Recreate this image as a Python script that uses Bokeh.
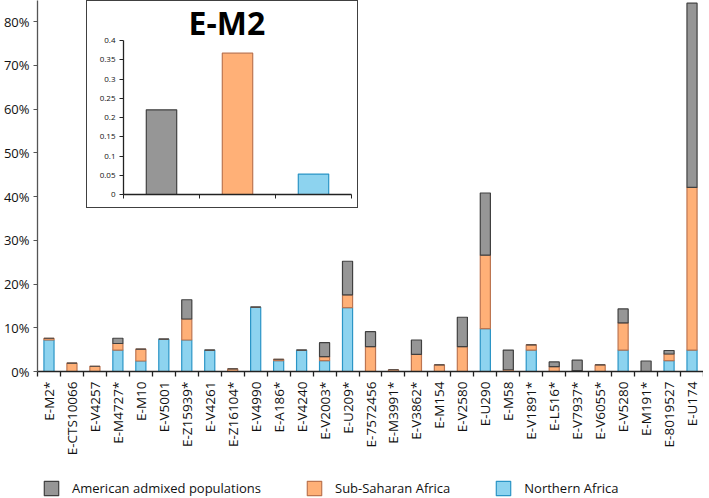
import math
from bokeh.plotting import figure
from bokeh.models import (ColumnDataSource, Range1d, FixedTicker, NumeralTickFormatter,
                          Legend, LegendItem, Title)
from bokeh.embed import file_html
from bokeh.resources import INLINE

# ---------------- data ----------------
haplogroups = ["E-M2*", "E-CTS10066", "E-V4257", "E-M4727*", "E-M10", "E-V5001",
               "E-Z15939*", "E-V4261", "E-Z16104*", "E-V4990", "E-A186*", "E-V4240",
               "E-V2003*", "E-U209*", "E-7572456", "E-M3991*", "E-V3862*", "E-M154",
               "E-V2580", "E-U290", "E-M58", "E-V1891*", "E-L516*", "E-V7937*",
               "E-V6055*", "E-V5280", "E-M191*", "E-8019527", "E-U174"]
northern_africa = [0.072, 0.0, 0.0, 0.049, 0.024, 0.074, 0.072, 0.049, 0.0, 0.147,
                   0.025, 0.049, 0.025, 0.146, 0.0, 0.0, 0.0, 0.0, 0.0, 0.098,
                   0.0, 0.049, 0.0, 0.0, 0.0, 0.049, 0.0, 0.025, 0.049]
sub_saharan_africa = [0.004, 0.019, 0.012, 0.015, 0.027, 0.0, 0.048, 0.0, 0.006, 0.0,
                      0.003, 0.0, 0.009, 0.029, 0.057, 0.004, 0.039, 0.015, 0.057, 0.168,
                      0.004, 0.012, 0.011, 0.002, 0.015, 0.062, 0.0, 0.015, 0.372]
american_admixed = [0.0, 0.0, 0.0, 0.012, 0.0, 0.0, 0.044, 0.0, 0.0, 0.0,
                    0.0, 0.0, 0.032, 0.077, 0.034, 0.0, 0.033, 0.0, 0.067, 0.142,
                    0.045, 0.0, 0.011, 0.024, 0.0, 0.032, 0.024, 0.008, 0.421]
series_labels = ["American admixed populations", "Sub-Saharan Africa", "Northern Africa"]
y_ticks = [0.0, 0.1, 0.2, 0.3, 0.4, 0.5, 0.6, 0.7, 0.8]

inset_title = "E-M2"
inset_values = [0.22, 0.367, 0.053]   # American admixed, Sub-Saharan, Northern Africa
inset_ticks = [0.0, 0.05, 0.1, 0.15, 0.2, 0.25, 0.3, 0.35, 0.4]

# ---------------- styles ----------------
FONT = "Open Sans"
GREY_F, GREY_L = "#969696", "#404040"
ORNG_F, ORNG_L = "#FFB077", "#BD7550"
BLUE_F, BLUE_L = "#8DD3EF", "#2B95C6"

n = len(haplogroups)
centers = [i + 0.5 for i in range(n)]
bounds = [float(i) for i in range(n + 1)]

src = ColumnDataSource(dict(x=centers, na=northern_africa, ssa=sub_saharan_africa,
                            am=american_admixed))

# ---------------- main chart ----------------
p = figure(frame_width=666, frame_height=371, output_backend="svg", toolbar_location=None,
           x_range=Range1d(0, n), y_range=Range1d(0, 0.848),
           min_border_left=34, min_border_right=0, min_border_top=0,
           min_border_bottom=0)
p.xgrid.visible = False
p.ygrid.visible = False
p.outline_line_color = None
p.background_fill_color = "white"

rs = p.vbar_stack(["na", "ssa", "am"], x="x", width=0.44, source=src,
                  fill_color=[BLUE_F, ORNG_F, GREY_F],
                  line_color=[BLUE_L, ORNG_L, GREY_L], line_width=1.2)

# x axis: labels at centers, ticks at category boundaries
xa = p.xaxis[0]
xa.ticker = FixedTicker(ticks=centers, minor_ticks=bounds)
xa.major_label_overrides = {c: h for c, h in zip(centers, haplogroups)}
xa.major_label_orientation = math.pi / 2
xa.major_tick_line_color = None
xa.major_tick_out = 5
xa.major_tick_in = 0
xa.major_label_standoff = 5
xa.minor_tick_out = 5
xa.minor_tick_in = 0
xa.minor_tick_line_color = "#222222"
xa.minor_tick_line_width = 1.3
xa.axis_line_color = "#222222"
xa.axis_line_width = 1.3
xa.major_label_text_font = FONT
xa.major_label_text_font_size = "13.5px"
xa.major_label_text_color = "#111111"

ya = p.yaxis[0]
ya.ticker = FixedTicker(ticks=y_ticks)
ya.formatter = NumeralTickFormatter(format="0%")
ya.major_tick_out = 4
ya.major_tick_in = 0
ya.minor_tick_line_color = None
ya.major_label_standoff = 4
ya.axis_line_color = "#555555"
ya.axis_line_width = 1.3
ya.major_tick_line_color = "#555555"
ya.major_label_text_font = FONT
ya.major_label_text_font_size = "13px"
ya.major_label_text_color = "#111111"

# ---------------- legend (own small canvas under the chart) ----------------
# the key glyphs reuse the same stacked data; the y range keeps the bars out of view
lg = figure(width=667, height=20, output_backend="svg", toolbar_location=None,
            x_range=Range1d(0, n), y_range=Range1d(2, 3),
            x_axis_location=None, y_axis_location=None,
            min_border_left=0, min_border_right=0, min_border_top=0,
            min_border_bottom=0)
lg.xgrid.visible = False
lg.ygrid.visible = False
lg.outline_line_color = None
lg.background_fill_alpha = 0
lg.border_fill_alpha = 0
keys = lg.vbar_stack(["na", "ssa", "am"], x="x", width=0.44, source=src,
                     fill_color=[BLUE_F, ORNG_F, GREY_F],
                     line_color=[BLUE_L, ORNG_L, GREY_L], line_width=1.2)
legend = Legend(items=[LegendItem(label=series_labels[0], renderers=[keys[2]]),
                       LegendItem(label=series_labels[1], renderers=[keys[1]]),
                       LegendItem(label=series_labels[2], renderers=[keys[0]])],
                orientation="horizontal", location="top_left",
                glyph_width=18, glyph_height=18, label_standoff=12, spacing=44,
                margin=0, padding=0, border_line_color=None,
                background_fill_alpha=0,
                label_text_font=FONT, label_text_font_size="13px",
                label_text_color="#111111")
lg.add_layout(legend)
lg.styles = {"position": "absolute", "left": "42px", "top": "479px", "z-index": "5"}

# ---------------- inset ----------------
isrc = ColumnDataSource(dict(x=[0.5, 1.5, 2.5], top=inset_values,
                             fill=[GREY_F, ORNG_F, BLUE_F], line=[GREY_L, ORNG_L, BLUE_L]))
ins = figure(width=272, height=208, output_backend="svg", toolbar_location=None,
             x_range=Range1d(0, 3), y_range=Range1d(0, 0.4),
             min_border_left=36, min_border_right=8, min_border_top=36,
             min_border_bottom=15)
ins.title = Title(text=inset_title, align="left", text_font=FONT,
                  text_font_size="32px", text_font_style="bold", text_color="#000000",
                  standoff=-6, offset=65)
ins.xgrid.visible = False
ins.ygrid.visible = False
ins.outline_line_color = None
ins.vbar(x="x", top="top", width=0.4, source=isrc, fill_color="fill",
         line_color="line", line_width=1.2)

ixa = ins.xaxis[0]
ixa.ticker = FixedTicker(ticks=[0, 1, 2, 3])
ixa.major_label_text_font_size = "0px"
ixa.major_label_text_color = None
ixa.major_tick_out = 4
ixa.major_tick_in = 0
ixa.major_label_standoff = 0
ixa.minor_tick_line_color = None
ixa.axis_line_color = "#222222"
ixa.axis_line_width = 1.3
ixa.major_tick_line_color = "#222222"

iya = ins.yaxis[0]
iya.ticker = FixedTicker(ticks=inset_ticks)
iya.formatter = NumeralTickFormatter(format="0.[00]")
iya.major_tick_out = 4
iya.major_tick_in = 0
iya.major_label_standoff = 4
iya.minor_tick_line_color = None
iya.axis_line_color = "#222222"
iya.axis_line_width = 1.3
iya.major_tick_line_color = "#222222"
iya.major_label_text_font = FONT
iya.major_label_text_font_size = "8px"
iya.major_label_text_color = "#111111"

ins.styles = {"position": "absolute", "left": "86px", "top": "0px",
              "border": "1.5px solid #404040", "background-color": "white",
              "z-index": "10"}

open("out.html", "w").write(file_html([p, ins, lg], INLINE))
